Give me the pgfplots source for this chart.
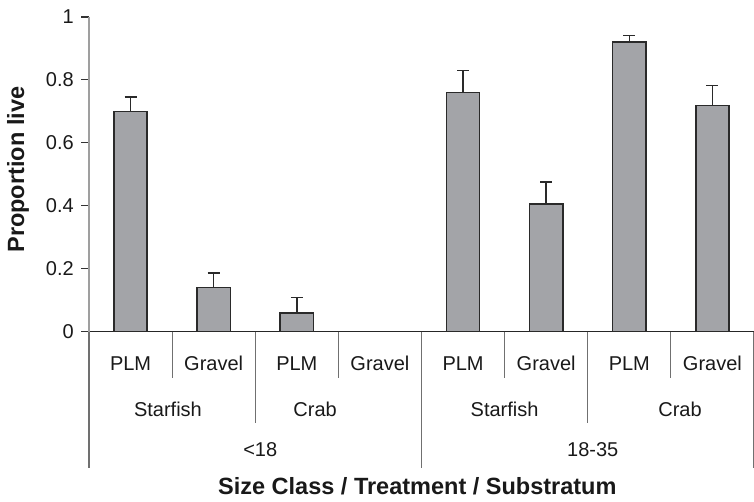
\documentclass[border=0pt]{standalone}
\usepackage{pgfplots}
\pgfplotsset{compat=1.18}
\usepackage{fontspec}
\setmainfont{Liberation Sans}
\definecolor{barfill}{HTML}{A3A4A8}
\definecolor{bardraw}{HTML}{2A2A2A}
\definecolor{sepgray}{HTML}{707070}
\newcommand{\lbl}{\fontsize{20}{24}\selectfont}
\newcommand{\ttl}{\fontsize{23.5}{28}\selectfont\bfseries}
\tikzset{
  lab/.style={anchor=base, font=\lbl, text=black!90, inner sep=0pt},
  sep/.style={sepgray, line width=1.2pt},
}
\begin{document}
\begin{tikzpicture}
\path[use as bounding box] (0,0) rectangle (754pt,501pt);
\begin{axis}[
  at={(89pt,169.3pt)}, anchor=south west,
  scale only axis, width=665pt, height=314.7pt,
  xmin=-0.5, xmax=7.5, ymin=0, ymax=1,
  axis x line*=bottom, axis y line*=left,
  x axis line style={-, draw=black!85, line width=1.3pt},
  y axis line style={-, draw=gray!75, line width=1.3pt},
  xtick=\empty,
  ytick={0,0.2,0.4,0.6,0.8,1},
  tick align=outside,
  major tick length=7.7pt,
  ytick style={draw=black!80, line width=1.1pt},
  yticklabel style={font=\lbl, xshift=-4pt, text=black!90},
  /pgf/number format/assume math mode=true,
  ybar, bar width=0.4,
  clip=false,
]
\addplot[fill=barfill, draw=bardraw, line width=1.5pt,
  error bars/.cd, y dir=plus, y explicit,
  error bar style={line width=1.5pt, draw=bardraw},
  error mark options={rotate=90, line width=1.5pt, mark size=6pt, draw=bardraw}]
  coordinates {
  (0,0.700) +- (0,0.045)
  (1,0.140) +- (0,0.047)
  (2,0.060) +- (0,0.049)
  (4,0.760) +- (0,0.070)
  (5,0.405) +- (0,0.070)
  (6,0.920) +- (0,0.021)
  (7,0.718) +- (0,0.064)
  };
% separators
\pgfplotsinvokeforeach{0.5,2.5,4.5,6.5}{
  \draw[sep] (axis cs:#1,0) -- ([yshift=-46pt]axis cs:#1,0);}
\pgfplotsinvokeforeach{1.5,5.5}{
  \draw[sep] (axis cs:#1,0) -- ([yshift=-91pt]axis cs:#1,0);}
\pgfplotsinvokeforeach{-0.5,3.5,7.5}{
  \draw[sep] (axis cs:#1,0) -- ([yshift=-136pt]axis cs:#1,0);}
% level 1 labels
\pgfplotsinvokeforeach{0,2,4,6}{
  \node[lab] at ([yshift=-39pt]axis cs:#1,0) {PLM};}
\pgfplotsinvokeforeach{1,3,5,7}{
  \node[lab] at ([yshift=-39pt]axis cs:#1,0) {Gravel};}
% level 2 labels
\pgfplotsinvokeforeach{0.45,4.5}{
  \node[lab] at ([yshift=-85pt]axis cs:#1,0) {Starfish};}
\pgfplotsinvokeforeach{2.22,6.61}{
  \node[lab] at ([yshift=-85pt]axis cs:#1,0) {Crab};}
% level 3 labels
\node[lab] at ([yshift=-125pt]axis cs:1.56,0) {<18};
\node[lab] at ([yshift=-125pt]axis cs:5.56,0) {18-35};
% axis titles
\node[anchor=base, font=\ttl, text=black!90, inner sep=0pt] at ([yshift=-163pt]axis cs:3.45,0) {Size Class / Treatment / Substratum};
\node[rotate=90, anchor=center, font=\ttl, text=black!90, inner sep=0pt] at ([xshift=-71pt]axis description cs:0,0.515) {Proportion live};
\end{axis}
\end{tikzpicture}
\end{document}
